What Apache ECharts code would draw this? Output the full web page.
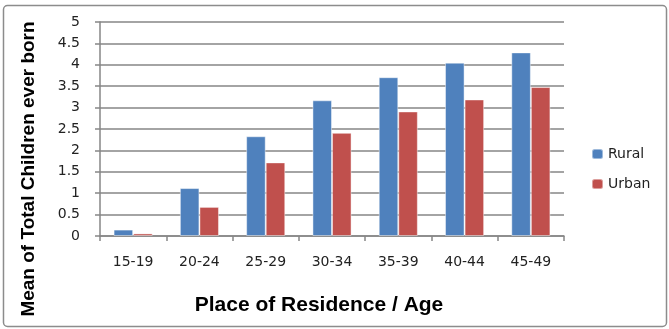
<!DOCTYPE html>
<html>
<head>
<meta charset="utf-8">
<script src="https://cdn.jsdelivr.net/npm/echarts@6/dist/echarts.min.js"></script>
<style>
  html, body { margin: 0; padding: 0; background: #fff; }
  #chart { width: 669px; height: 329px; }
</style>
</head>
<body>
<div id="chart"></div>
<script>
// Age groups and mean number of children ever born, by place of residence
const ageGroups = ['15-19', '20-24', '25-29', '30-34', '35-39', '40-44', '45-49'];
const rural = [0.15, 1.12, 2.33, 3.17, 3.71, 4.05, 4.29];
const urban = [0.06, 0.68, 1.72, 2.41, 2.91, 3.19, 3.48];
const yTicks = { min: 0, max: 5, interval: 0.5 };
const xTitle = 'Place of Residence / Age';
const yTitle = 'Mean of Total Children ever born';

const axisGray = '#868686';
const labelFont = { fontFamily: 'DejaVu Sans', fontSize: 14, color: '#222' };

const chart = echarts.init(document.getElementById('chart'), null, { renderer: 'canvas' });
chart.setOption({
  animation: false,
  backgroundColor: '#fff',
  graphic: [
    {
      type: 'rect',
      shape: { x: 3.5, y: 5.5, width: 663, height: 321, r: 4 },
      style: { fill: 'none', stroke: '#8c8c8c', lineWidth: 1.5 },
      silent: true
    },
    {
      type: 'text',
      x: 319, y: 305,
      style: { text: xTitle, font: 'bold 21px "Liberation Sans"', fill: '#000', align: 'center', verticalAlign: 'middle' },
      silent: true
    },
    {
      type: 'text',
      x: 29, y: 169,
      rotation: Math.PI / 2,
      style: { text: yTitle, font: 'bold 19px "Liberation Sans"', fill: '#000', align: 'center', verticalAlign: 'middle' },
      silent: true
    }
  ],
  grid: { left: 100, right: 105, top: 22, bottom: 93 },
  legend: {
    orient: 'vertical',
    left: 586,
    top: 142,
    itemWidth: 11,
    itemHeight: 10,
    itemGap: 16,
    textStyle: labelFont,
    data: ['Rural', 'Urban']
  },
  xAxis: {
    type: 'category',
    data: ageGroups,
    axisLine: { lineStyle: { color: axisGray, width: 1.5 } },
    axisTick: { show: true, length: 5, lineStyle: { color: axisGray, width: 1.5 } },
    axisLabel: Object.assign({ margin: 19 }, labelFont)
  },
  yAxis: {
    type: 'value',
    min: yTicks.min,
    max: yTicks.max,
    interval: yTicks.interval,
    axisLine: { show: true, lineStyle: { color: axisGray, width: 1.5 } },
    axisTick: { show: true, length: 5, lineStyle: { color: axisGray, width: 1.5 } },
    splitLine: { lineStyle: { color: axisGray, width: 1.5 } },
    axisLabel: Object.assign({ margin: 20 }, labelFont)
  },
  series: [
    {
      name: 'Rural',
      type: 'bar',
      data: rural,
      barGap: '0%',
      barCategoryGap: '41%',
      itemStyle: { color: '#4F81BD', borderColor: 'rgba(255,255,255,0.45)', borderWidth: 1 }
    },
    {
      name: 'Urban',
      type: 'bar',
      data: urban,
      itemStyle: { color: '#C0504D', borderColor: 'rgba(255,255,255,0.45)', borderWidth: 1 }
    }
  ]
});
</script>
</body>
</html>
